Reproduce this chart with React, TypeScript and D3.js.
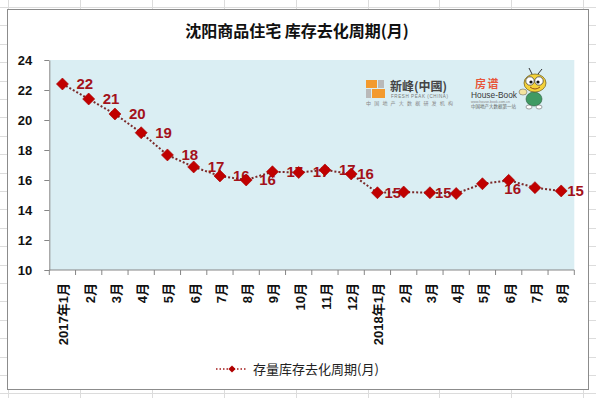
import React, { useRef, useEffect } from "react";
import * as d3 from "d3";

const WIDTH = 596;
const HEIGHT = 398;

const months = [
    "2017年1月", "2月", "3月", "4月", "5月", "6月", "7月", "8月", "9月", "10月", "11月", "12月",
    "2018年1月", "2月", "3月", "4月", "5月", "6月", "7月", "8月",
];
const cycle = [
    22.4, 21.4, 20.4, 19.15, 17.67, 16.87, 16.27, 16.0, 16.55, 16.5, 16.67, 16.4,
    15.15, 15.2, 15.15, 15.1, 15.75, 15.98, 15.49, 15.27,
];
const yTicks = [10, 12, 14, 16, 18, 20, 22, 24];
const seriesName = "存量库存去化周期(月)";
const title = "沈阳商品住宅 库存去化周期(月)";
// which data labels are shown and where (offset to the right, or below)
const labelPlace = [14, 14, 14, 14, 14, 14, 13, 13, 14, 14, 14, 6, 7, null, 5, null, null, "below", null, 6];

const NUM_FONT = "'Liberation Sans', Arial, 'Noto Sans CJK SC', sans-serif";
const CJK_FONT = "'Noto Sans CJK SC', sans-serif";

function App() {
    const svgRef = useRef(null);

    useEffect(() => {
        const svg = d3.select(svgRef.current);
        svg.selectAll("*").remove();

        const margin = { top: 60, right: 21.7, bottom: 128, left: 49.3 };
        const x = d3.scaleBand()
            .domain(d3.range(months.length))
            .range([margin.left, WIDTH - margin.right]);
        const y = d3.scaleLinear()
            .domain([10, 24])
            .range([HEIGHT - margin.bottom, margin.top]);
        const bw = x.bandwidth();
        const cx = i => x(i) + bw / 2;

        // spreadsheet behind the chart
        svg.append("rect").attr("width", WIDTH).attr("height", HEIGHT).attr("fill", "#fff");
        svg.append("g").selectAll("line")
            .data(d3.range(8, WIDTH, 71.9))
            .enter().append("line")
            .attr("x1", d => Math.round(d) + 0.5).attr("x2", d => Math.round(d) + 0.5)
            .attr("y1", 0).attr("y2", HEIGHT)
            .attr("stroke", "#dcdcdc");
        svg.append("g").selectAll("line")
            .data(d3.range(7, HEIGHT, 18.4))
            .enter().append("line")
            .attr("y1", d => Math.round(d) + 0.5).attr("y2", d => Math.round(d) + 0.5)
            .attr("x1", 0).attr("x2", WIDTH)
            .attr("stroke", "#dcdcdc");

        // chart frame
        svg.append("rect")
            .attr("x", 7.5).attr("y", 9.5)
            .attr("width", 581).attr("height", 380)
            .attr("fill", "#fff")
            .attr("stroke", "#8c8c8c");

        svg.append("text")
            .attr("x", 297).attr("y", 30)
            .attr("text-anchor", "middle")
            .attr("dominant-baseline", "central")
            .attr("font-family", CJK_FONT)
            .attr("font-weight", "bold")
            .attr("font-size", 16)
            .attr("fill", "#111")
            .text(title);

        // plot area
        svg.append("rect")
            .attr("x", margin.left + 0.7).attr("y", margin.top)
            .attr("width", WIDTH - margin.right - margin.left - 0.7)
            .attr("height", y(10) - margin.top)
            .attr("fill", "#daeef3");

        // logos
        const logo = svg.append("g");
        logo.append("rect").attr("x", 366).attr("y", 80).attr("width", 11).attr("height", 8).attr("fill", "#f39a2e");
        logo.append("rect").attr("x", 378).attr("y", 80).attr("width", 6).attr("height", 8).attr("fill", "#b9b9b9");
        logo.append("rect").attr("x", 366).attr("y", 89).attr("width", 5).attr("height", 9).attr("fill", "#b9b9b9");
        logo.append("rect").attr("x", 372).attr("y", 89).attr("width", 13).attr("height", 9).attr("fill", "#f39a2e");
        logo.append("text").attr("x", 390).attr("y", 91)
            .attr("font-family", CJK_FONT).attr("font-weight", "bold").attr("font-size", 12)
            .attr("fill", "#444").text("新峰(中國)");
        logo.append("text").attr("x", 391).attr("y", 97.5)
            .attr("font-family", NUM_FONT).attr("font-size", 4.5).attr("letter-spacing", 0.6)
            .attr("fill", "#777").text("FRESH PEAK (CHINA)");
        logo.append("text").attr("x", 366).attr("y", 105)
            .attr("font-family", CJK_FONT).attr("font-size", 5).attr("letter-spacing", 3.2)
            .attr("fill", "#888").text("中国地产大数据研发机构");

        logo.append("text").attr("x", 475).attr("y", 87.5)
            .attr("font-family", CJK_FONT).attr("font-weight", "bold").attr("font-size", 11)
            .attr("letter-spacing", 1.5)
            .attr("fill", "#e8553a").text("房谱");
        logo.append("text").attr("x", 471).attr("y", 98)
            .attr("font-family", NUM_FONT).attr("font-size", 9)
            .attr("textLength", 46).attr("lengthAdjust", "spacingAndGlyphs")
            .attr("fill", "#3a3a3a").text("House-Book");
        logo.append("text").attr("x", 471).attr("y", 102.5)
            .attr("font-family", NUM_FONT).attr("font-size", 3.5)
            .attr("fill", "#888").text("www.house-book.com.cn");
        logo.append("text").attr("x", 471).attr("y", 107.5)
            .attr("font-family", CJK_FONT).attr("font-size", 4.5)
            .attr("fill", "#666").text("中国地产大数据第一站");

        // bee
        const bee = logo.append("g").attr("transform", "translate(3,0)");
        bee.append("line").attr("x1", 529).attr("y1", 74).attr("x2", 526).attr("y2", 68).attr("stroke", "#333");
        bee.append("line").attr("x1", 535).attr("y1", 74).attr("x2", 539).attr("y2", 69).attr("stroke", "#333");
        bee.append("ellipse").attr("cx", 531).attr("cy", 99).attr("rx", 8).attr("ry", 7).attr("fill", "#3f9a63").attr("stroke", "#2b5a3a").attr("stroke-width", 0.6);
        bee.append("ellipse").attr("cx", 520).attr("cy", 92).attr("rx", 4).attr("ry", 3).attr("fill", "#f3e3a0").attr("stroke", "#555").attr("stroke-width", 0.5);
        bee.append("ellipse").attr("cx", 532).attr("cy", 83).attr("rx", 11).attr("ry", 9).attr("fill", "#f5d23a").attr("stroke", "#6b5a12").attr("stroke-width", 0.7);
        bee.append("circle").attr("cx", 527).attr("cy", 81).attr("r", 4.2).attr("fill", "#fff").attr("stroke", "#333").attr("stroke-width", 0.7);
        bee.append("circle").attr("cx", 536).attr("cy", 81).attr("r", 4.2).attr("fill", "#fff").attr("stroke", "#333").attr("stroke-width", 0.7);
        bee.append("circle").attr("cx", 528).attr("cy", 82).attr("r", 1.6).attr("fill", "#111");
        bee.append("circle").attr("cx", 535).attr("cy", 82).attr("r", 1.6).attr("fill", "#111");
        bee.append("path").attr("d", "M527,87 Q532,91 537,87").attr("fill", "none").attr("stroke", "#7a2a10").attr("stroke-width", 0.8);
        bee.append("ellipse").attr("cx", 526).attr("cy", 107).attr("rx", 3).attr("ry", 2).attr("fill", "#fff").attr("stroke", "#444").attr("stroke-width", 0.5);
        bee.append("ellipse").attr("cx", 536).attr("cy", 107).attr("rx", 3).attr("ry", 2).attr("fill", "#fff").attr("stroke", "#444").attr("stroke-width", 0.5);

        // y axis
        const yAxis = svg.append("g")
            .attr("transform", `translate(${margin.left},0)`)
            .call(d3.axisLeft(y).tickValues(yTicks).tickSize(5).tickSizeOuter(0).tickPadding(12));
        yAxis.selectAll("path, line").attr("stroke", "#868686");
        yAxis.selectAll("text")
            .attr("font-family", NUM_FONT)
            .attr("font-weight", "bold")
            .attr("font-size", 13)
            .attr("fill", "#111");

        // x axis
        const xAxis = svg.append("g").attr("transform", `translate(0,${y(10)})`);
        xAxis.append("line")
            .attr("x1", margin.left).attr("x2", WIDTH - margin.right)
            .attr("stroke", "#868686");
        xAxis.selectAll(".tick")
            .data(months.map((_, i) => x(i)).concat([x.range()[1]]))
            .enter().append("line")
            .attr("class", "tick")
            .attr("x1", d => d).attr("x2", d => d)
            .attr("y1", 0).attr("y2", 5)
            .attr("stroke", "#868686");
        xAxis.selectAll(".lbl")
            .data(months)
            .enter().append("text")
            .attr("class", "lbl")
            .attr("transform", (d, i) => `translate(${cx(i) + 1.5},13) rotate(-90)`)
            .attr("dy", "0.35em")
            .attr("text-anchor", "end")
            .attr("font-family", NUM_FONT)
            .attr("font-weight", "bold")
            .attr("font-size", 13)
            .attr("fill", "#111")
            .text(d => d);

        // series line
        const line = d3.line()
            .x((d, i) => cx(i))
            .y(d => y(d));
        svg.append("path")
            .datum(cycle)
            .attr("d", line)
            .attr("fill", "none")
            .attr("stroke", "#7b2a2a")
            .attr("stroke-width", 2)
            .attr("stroke-dasharray", "2,2");

        // data labels
        const fmt = d3.format(".0f");
        const shown = cycle.map((v, i) => ({ v, i, p: labelPlace[i] })).filter(d => d.p !== null);
        svg.append("g").selectAll("text")
            .data(shown)
            .enter().append("text")
            .attr("x", d => d.p === "below" ? cx(d.i) + 4 : cx(d.i) + d.p)
            .attr("y", d => d.p === "below" ? y(d.v) + 8 : y(d.v) - 0.5)
            .attr("dy", "0.36em")
            .attr("text-anchor", d => d.p === "below" ? "middle" : "start")
            .attr("font-family", NUM_FONT)
            .attr("font-weight", "bold")
            .attr("font-size", 15)
            .attr("fill", "#a3121a")
            .text(d => fmt(d.v));

        // markers
        const diamond = d3.symbol(d3.symbolSquare, 72);
        svg.append("g").selectAll("path")
            .data(cycle)
            .enter().append("path")
            .attr("d", diamond)
            .attr("transform", (d, i) => `translate(${cx(i)},${y(d)}) rotate(45)`)
            .attr("fill", "#c00000")
            .attr("stroke", "#a80000")
            .attr("stroke-width", 0.6);

        // legend
        const legend = svg.append("g").attr("transform", "translate(216,369)");
        legend.append("line")
            .attr("x1", 0).attr("x2", 31)
            .attr("stroke", "#a31a1a")
            .attr("stroke-width", 1.5)
            .attr("stroke-dasharray", "1.5,2");
        legend.append("path")
            .attr("d", d3.symbol(d3.symbolSquare, 26))
            .attr("transform", "translate(16,0) rotate(45)")
            .attr("fill", "#b00000");
        legend.append("text")
            .attr("x", 37)
            .attr("dy", "0.36em")
            .attr("font-family", CJK_FONT)
            .attr("font-size", 13)
            .attr("fill", "#222")
            .text(seriesName);
    }, []);

    return (
        <div style={{ position: "absolute", left: 0, top: 0, width: WIDTH, height: HEIGHT }}>
            <svg ref={svgRef} width={WIDTH} height={HEIGHT} style={{ display: "block" }}></svg>
        </div>
    );
}

export default App;
